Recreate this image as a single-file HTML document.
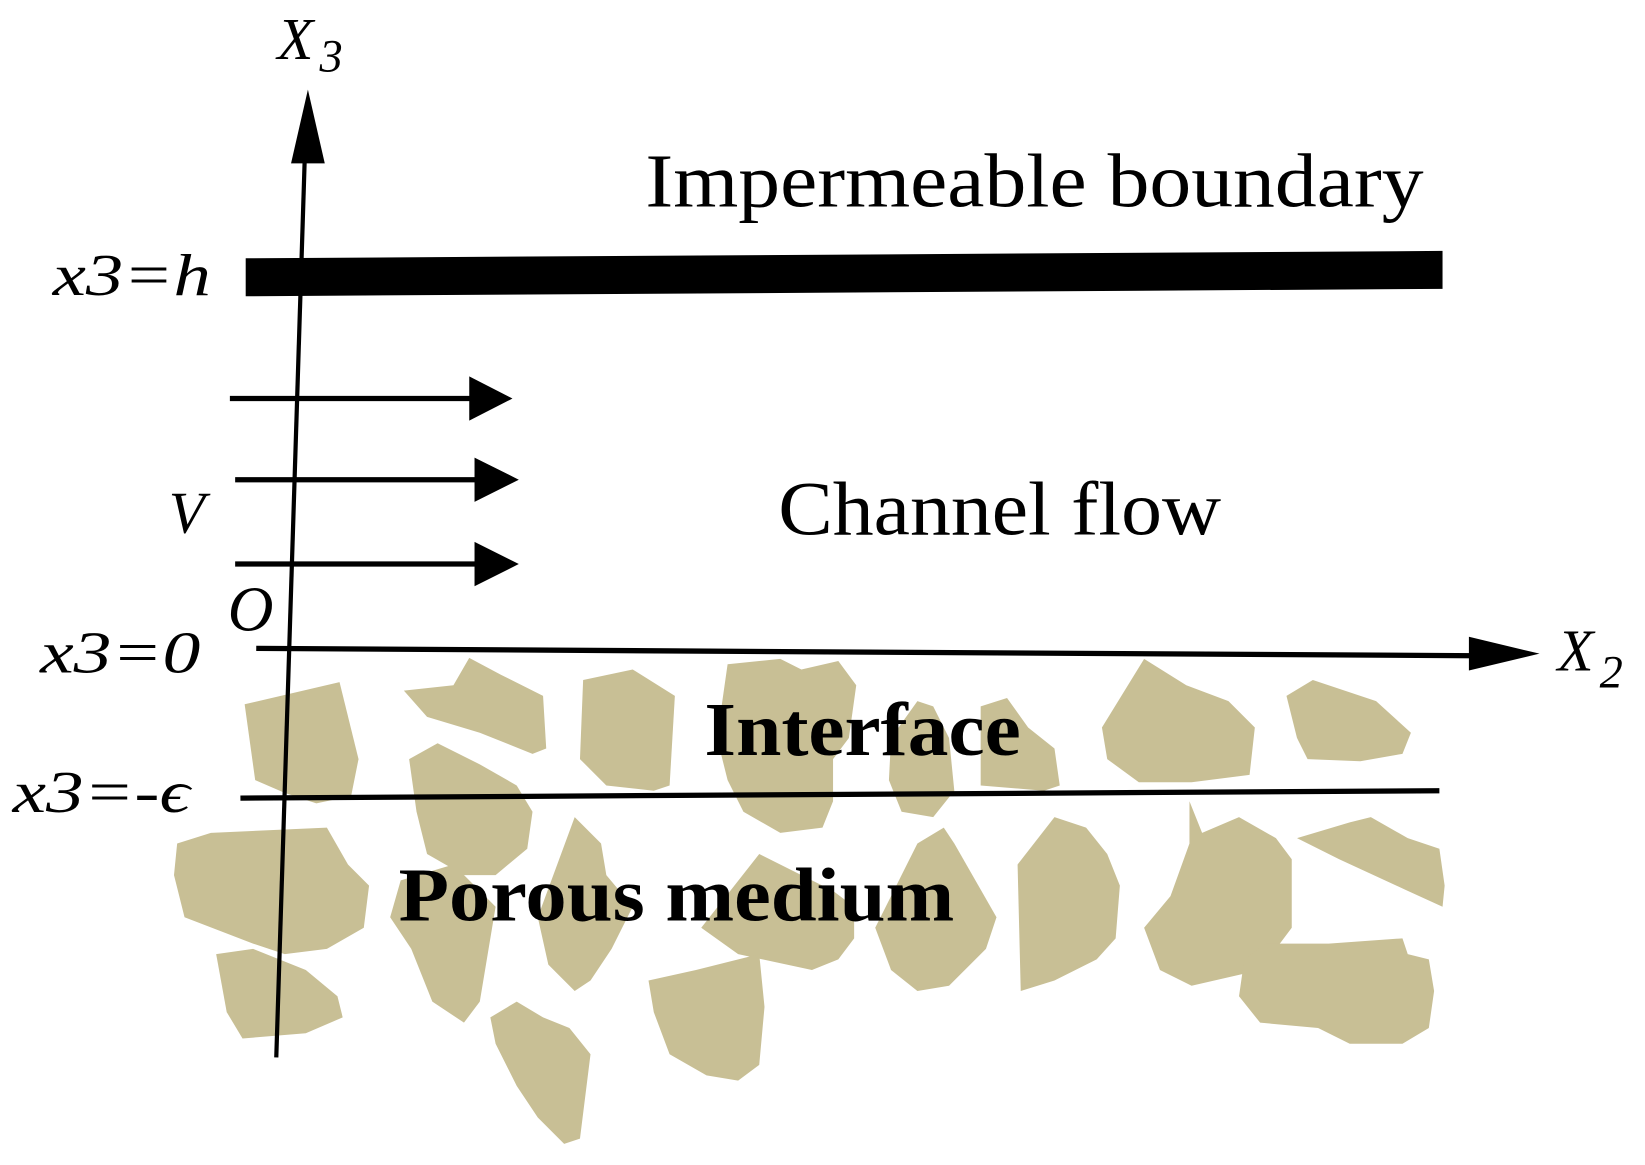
<!DOCTYPE html>
<html><head><meta charset="utf-8"><style>html,body{margin:0;padding:0;background:#fff}svg{display:block}.t{font-family:"Liberation Serif",serif}</style></head>
<body>
<svg width="1645" height="1165" viewBox="0 0 1560 1105" preserveAspectRatio="none" xmlns="http://www.w3.org/2000/svg">
<rect width="1560" height="1105" fill="#fff"/>
<g fill="#c8bf95">
<polygon points="232,668 322,647 340,720 333,755 300,762 270,752 242,740"/>
<polygon points="383,655 430,650 445,624 475,640 515,660 518,710 505,715 455,695 405,680"/>
<polygon points="553,645 600,635 640,660 635,745 620,750 575,745 550,720"/>
<polygon points="690,630 740,625 760,635 795,627 812,650 805,700 790,720 790,760 780,785 740,790 705,770 690,740 680,700"/>
<polygon points="845,700 870,665 885,670 900,700 905,750 885,775 855,770 843,740"/>
<polygon points="930,670 955,662 975,690 1000,710 1005,745 990,750 930,745"/>
<polygon points="1045,690 1085,625 1125,650 1165,665 1190,690 1185,735 1130,742 1080,742 1050,720"/>
<polygon points="1220,660 1245,645 1305,665 1338,695 1330,715 1290,722 1240,720 1230,700"/>
<polygon points="388,720 415,705 455,725 490,745 505,770 500,805 470,830 440,830 405,810 395,770"/>
<polygon points="168,800 200,790 310,785 330,820 350,840 345,880 310,900 270,905 240,895 175,870 165,830"/>
<polygon points="205,905 240,900 290,920 320,945 325,965 290,980 230,985 215,960"/>
<polygon points="380,835 430,820 470,860 465,890 455,950 440,970 410,950 390,900 370,870"/>
<polygon points="510,870 545,775 570,800 575,830 600,860 580,900 560,930 545,940 520,915"/>
<polygon points="665,880 720,810 760,830 790,845 810,860 810,890 795,910 770,920 700,905"/>
<polygon points="830,880 870,800 895,785 905,800 925,835 945,870 935,900 900,935 870,940 845,920"/>
<polygon points="965,820 1000,775 1030,785 1050,810 1062,840 1058,890 1040,910 1000,930 968,940"/>
<polygon points="1128,760 1140,790 1175,775 1210,795 1225,815 1225,880 1195,920 1130,935 1100,920 1085,880 1110,850 1128,800"/>
<polygon points="1230,795 1280,780 1300,775 1335,795 1365,805 1370,840 1368,860 1335,845 1270,815"/>
<polygon points="1180,910 1200,895 1260,895 1330,890 1335,905 1355,910 1360,940 1355,975 1330,990 1280,990 1250,975 1195,970 1175,945"/>
<polygon points="615,930 660,920 720,905 725,955 720,1010 700,1025 670,1020 635,1000 620,960"/>
<polygon points="465,965 490,950 515,965 540,975 560,1000 555,1040 550,1080 535,1085 510,1060 490,1030 470,990"/>
</g>
<polygon points="233,245 1368,238 1368,274 233,281" fill="#000"/>
<line x1="262" y1="1003" x2="289" y2="150" stroke="#000" stroke-width="4"/>
<polygon points="292,85 276,155 308,155" fill="#000"/>
<line x1="243" y1="615" x2="1400" y2="622" stroke="#000" stroke-width="5"/>
<polygon points="1460,620 1393,604 1393,636" fill="#000"/>
<line x1="228" y1="757" x2="1365" y2="750" stroke="#000" stroke-width="5"/>
<g stroke="#000" stroke-width="5"><line x1="218" y1="378" x2="450" y2="378"/><line x1="223" y1="455" x2="455" y2="455"/><line x1="223" y1="535" x2="455" y2="535"/></g>
<g fill="#000"><polygon points="486,378 445,357 445,399"/><polygon points="492,455 450,434 450,476"/><polygon points="492,535 450,514 450,556"/></g>
<g class="t" fill="#000">
<text x="612" y="196" font-size="72" textLength="738" lengthAdjust="spacingAndGlyphs">Impermeable  boundary</text>
<text x="738" y="507" font-size="72" textLength="420" lengthAdjust="spacingAndGlyphs">Channel  flow</text>
<text x="668" y="716" font-size="72" font-weight="bold" textLength="300" lengthAdjust="spacingAndGlyphs">Interface</text>
<text x="378" y="873" font-size="72" font-weight="bold" textLength="527" lengthAdjust="spacingAndGlyphs">Porous  medium</text>
<g font-style="italic">
<text x="50" y="280" font-size="56" textLength="150" lengthAdjust="spacingAndGlyphs">x3=h</text>
<text x="38" y="638" font-size="56" textLength="152" lengthAdjust="spacingAndGlyphs">x3=0</text>
<text x="12" y="770" font-size="56" textLength="168" lengthAdjust="spacingAndGlyphs">x3=-ϵ</text>
<text x="160" y="505" font-size="56">V</text>
<text x="216" y="598" font-size="60">O</text>
<text x="263" y="56" font-size="56">X</text><text x="303" y="68" font-size="44">3</text>
<text x="1477" y="636" font-size="56">X</text><text x="1517" y="652" font-size="44">2</text>
</g></g>
</svg>
</body></html>
